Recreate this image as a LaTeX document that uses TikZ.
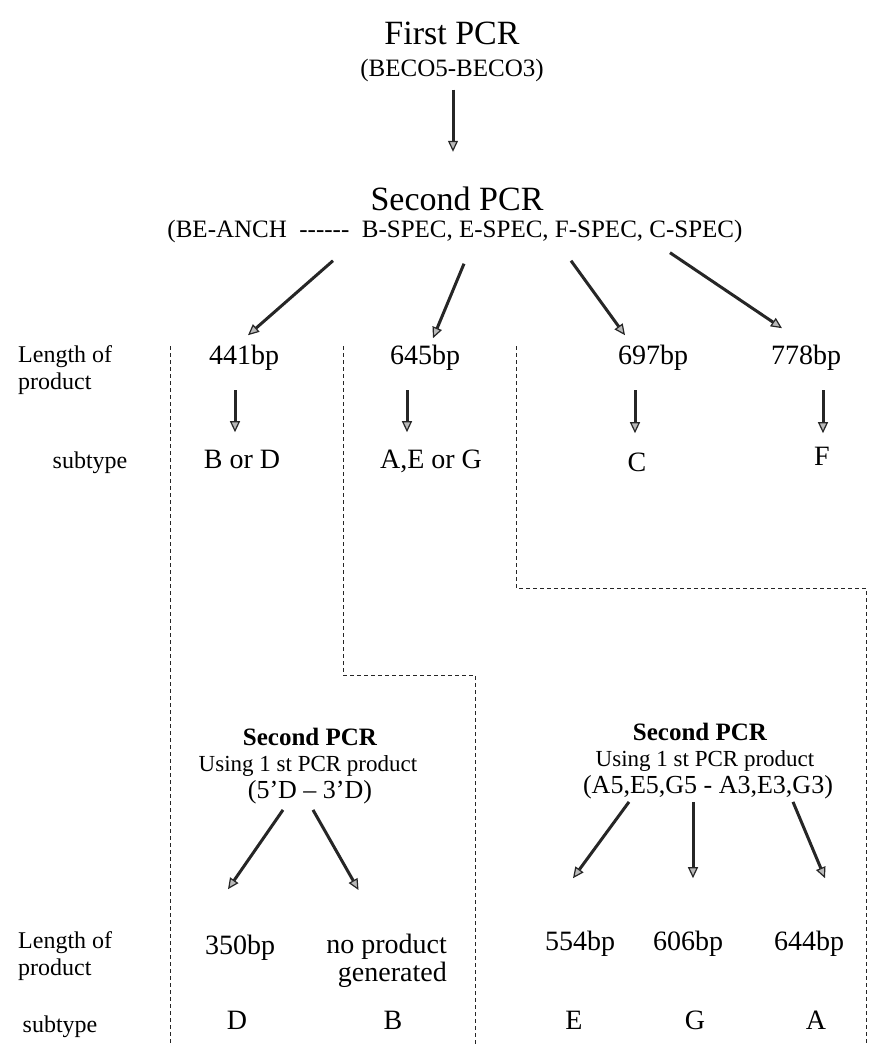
\documentclass[tikz,border=0pt]{standalone}
\usepackage{fontspec}
\setmainfont{Liberation Serif}
\usetikzlibrary{arrows.meta}

\begin{document}
\begin{tikzpicture}[x=1pt,y=-1pt,
  every node/.style={inner sep=0pt,anchor=base},
  big/.style={text height=24pt,text depth=7.5pt,font=\fontsize{34}{40}\selectfont},
  mid/.style={text height=17.5pt,text depth=5.5pt,font=\fontsize{25}{30}\selectfont},
  val/.style={text height=19.6pt,text depth=6.2pt,font=\fontsize{28}{32}\selectfont},
  lab/.style={font=\fontsize{24}{27}\selectfont},
  hd/.style={text height=17.5pt,text depth=5.5pt,font=\fontsize{25}{30}\selectfont\bfseries},
  use/.style={text height=16pt,text depth=5pt,font=\fontsize{23}{28}\selectfont},
  prim/.style={text height=18pt,text depth=5.7pt,font=\fontsize{26}{30}\selectfont},
  ar/.style={draw=black!85,line width=3pt,-{Triangle[length=11pt,width=10pt,line width=1.2pt,fill=gray!55]}},
  dl/.style={draw=black!85,line width=0.9pt,dash pattern=on 4pt off 3pt}]
\useasboundingbox (0,0) rectangle (870,1045);

% top part
\node[big] (first) at (452,44) {First PCR};
\node[mid] (firstp) at (452,76) {(BECO5-BECO3)};
\node[big] (second) at (457,210) {Second PCR};
\node[mid] (secondp) at (455,237) {(BE-ANCH\ \ -\kern0pt-\kern0pt-\kern0pt-\kern0pt-\kern0pt-\ \ B-SPEC, E-SPEC, F-SPEC, C-SPEC)};
\draw[ar] ([xshift=1pt,yshift=-8pt]firstp.south) -- ([xshift=-4pt,yshift=34pt]second.north);

% first results
\node[lab,anchor=north west,align=left] (len1) at (18,345) {Length of\\product};
\node[val] (b441) at (244,364) {441bp};
\node[val] (b645) at (425,364) {645bp};
\node[val] (b697) at (653,364) {697bp};
\node[val] (b778) at (806,364) {778bp};
\draw[ar] ([xshift=-122pt,yshift=-18pt]secondp.south) -- ([xshift=4pt,yshift=9pt]b441.north);
\draw[ar] ([xshift=9pt,yshift=-21pt]secondp.south) -- ([xshift=8pt,yshift=6pt]b645.north);
\draw[ar] ([xshift=116pt,yshift=-18pt]secondp.south) -- ([xshift=-28pt,yshift=9pt]b697.north);
\draw[ar] ([xshift=215pt,yshift=-10pt]secondp.south) -- ([xshift=-24pt,yshift=16pt]b778.north);

\node[lab] (sub1) at (90,468) {subtype};
\node[val] (sBD) at (242,468) {B or D};
\node[val] (sAEG) at (431,468) {A,E or G};
\node[val] (sC) at (637,471) {C};
\node[val] (sF) at (822,465) {F};
\draw[ar] ([xshift=-9pt,yshift=-20pt]b441.south) -- ([xshift=-7pt,yshift=16pt]sBD.north);
\draw[ar] ([xshift=-18pt,yshift=-20pt]b645.south) -- ([xshift=-24pt,yshift=16pt]sAEG.north);
\draw[ar] ([xshift=-18pt,yshift=-20pt]b697.south) -- ([xshift=-2pt,yshift=18pt]sC.north);
\draw[ar] ([xshift=17pt,yshift=-20pt]b778.south) -- ([xshift=1pt,yshift=12pt]sF.north);

% dashed borders
\draw[dl] (170,346) -- (170,1045);
\draw[dl] (343,346) -- (343,675) -- (475,675) -- (475,1045);
\draw[dl] (516,346) -- (516,588) -- (866,588) -- (866,1045);

% second round, D
\node[hd] (d2) at (310,745) {Second PCR};
\node[use] (d2u) at (308,771) {Using 1 st PCR product};
\node[prim] (d2p) at (310,798) {(5’D – 3’D)};
\node[val] (b350) at (240,954) {350bp};
\node[val,anchor=north east,align=right,text height=,text depth=,font=\fontsize{28}{28}\selectfont] (bno) at (447,934) {no product\\generated};
\draw[ar] ([xshift=-27pt,yshift=-6pt]d2p.south) -- ([xshift=-12pt,yshift=45pt]b350.north);
\draw[ar] ([xshift=3pt,yshift=-6pt]d2p.south) -- ([xshift=-28pt,yshift=44pt]bno.north);

% second round, AEG
\node[hd] (a2) at (700,740) {Second PCR};
\node[use] (a2u) at (705,766) {Using 1 st PCR product};
\node[prim] (a2p) at (708,793) {(A5,E5,G5 - A3,E3,G3)};
\node[val] (b554) at (580,950) {554bp};
\node[val] (b606) at (688,950) {606bp};
\node[val] (b644) at (809,950) {644bp};
\draw[ar] ([xshift=-79pt,yshift=-3pt]a2p.south) -- ([xshift=-7pt,yshift=52pt]b554.north);
\draw[ar] ([xshift=-15pt,yshift=-3pt]a2p.south) -- ([xshift=5pt,yshift=52pt]b606.north);
\draw[ar] ([xshift=85pt,yshift=-3pt]a2p.south) -- ([xshift=16pt,yshift=52pt]b644.north);

\node[lab,anchor=north west,align=left] (len2) at (18,931) {Length of\\product};
\node[lab] (sub2) at (60,1032) {subtype};
\node[val] (sD) at (237,1029) {D};
\node[val] (sB) at (393,1029) {B};
\node[val] (sE) at (574,1029) {E};
\node[val] (sG) at (695,1029) {G};
\node[val] (sA) at (816,1029) {A};
\end{tikzpicture}
\end{document}
